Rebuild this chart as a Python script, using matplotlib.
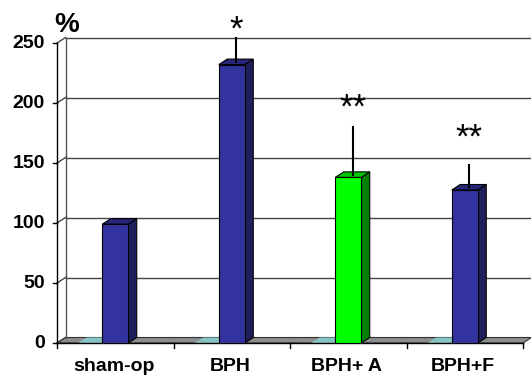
import numpy as np
import matplotlib
matplotlib.use('Agg')
import matplotlib.pyplot as plt
from matplotlib.patches import Polygon
import matplotlib.transforms as mtransforms

# data
groups = ['sham-op', 'BPH', 'BPH+ A', 'BPH+F']
values = [99, 232, 138, 127.5]
errors = [0, 20, 40, 18.5]
stars = ['', '*', '**', '**']
star_y = [0, 260.5, 195.5, 170.5]
y_ticks = [0, 50, 100, 150, 200, 250]

front_cols = ['#3333a0', '#3333a0', '#00ff00', '#3333a0']
side_cols = ['#1f1f5c', '#1f1f5c', '#008000', '#1f1f5c']
top_cols = ['#262678', '#262678', '#00c800', '#262678']

W, H = 531, 376
fig = plt.figure(figsize=(W / 100, H / 100), dpi=100)
ax = fig.add_axes([57 / W, (H - 343) / H, (W - 57) / W, 300 / H])
PX = 116.5   # pixels per category
PY = 1.2     # pixels per unit
ax.set_xlim(0, (W - 57) / PX)
ax.set_ylim(0, 250)
ax.axis('off')

DX = 8.5 / PX
DY = 5.5 / PY
n = len(groups)
xmax = ax.get_xlim()[1]
FONT = 'Liberation Sans'

# floor
ax.add_patch(Polygon([(0, 0), (n, 0), (n + DX, DY), (DX, DY)], closed=True,
                     facecolor='#8c8c8c', edgecolor='#333333', lw=0.8, clip_on=False))
bw = 26 / PX
centers = np.arange(n) + 0.5
for c in centers:
    l = c - bw / 2
    ax.add_patch(Polygon([(c - 0.32, 0), (l, 0), (l + DX, DY), (c - 0.32 + DX, DY)],
                         closed=True, facecolor='#88c4c4', edgecolor='none',
                         clip_on=False, zorder=1.5))

# walls, grid, axis
ax.plot([DX, DX], [DY, 250 + DY], color='#555555', lw=1, clip_on=False)
for v in y_ticks:
    if v > 0:
        ax.plot([DX, xmax], [v + DY, v + DY], color='#444444', lw=1, clip_on=False)
    ax.plot([0, DX], [v, v + DY], color='#444444', lw=1, clip_on=False)
    ax.plot([-4 / PX, 0], [v, v], color='black', lw=1, clip_on=False)
    ax.text(-12 / PX, v, str(v), ha='right', va='center', fontsize=14,
            fontweight='bold', family=FONT)
ax.plot([0, 0], [0, 250], color='black', lw=1, clip_on=False)
ax.plot([0, n], [0, 0], color='black', lw=1, clip_on=False)
for i in range(n + 1):
    ax.plot([i, i], [0, -5 / PY], color='black', lw=1, clip_on=False)

ax.text(-3 / PX, 259, '%', ha='left', va='baseline', fontsize=20,
        fontweight='bold', family=FONT)

# bars
for i, (c, v) in enumerate(zip(centers, values)):
    l, r = c - bw / 2, c + bw / 2
    ax.add_patch(Polygon([(r, 0), (r + DX, DY), (r + DX, v + DY), (r, v)], closed=True,
                         facecolor=side_cols[i], edgecolor='black', lw=0.8, zorder=3))
    ax.add_patch(Polygon([(l, v), (r, v), (r + DX, v + DY), (l + DX, v + DY)], closed=True,
                         facecolor=top_cols[i], edgecolor='black', lw=0.8, zorder=3))
    ax.add_patch(Polygon([(l, 0), (r, 0), (r, v), (l, v)], closed=True,
                         facecolor=front_cols[i], edgecolor='black', lw=0.8, zorder=3))
    if errors[i] > 0:
        ex = c + DX / 2
        ax.plot([ex, ex], [v + DY / 2, v + errors[i] + DY / 2], color='black',
                lw=1.5, zorder=4, clip_on=False)
    if stars[i]:
        ax.text(c + DX / 2, star_y[i], stars[i], ha='center', va='center',
                fontsize=25, family=FONT, clip_on=False)

lab_tr = mtransforms.blended_transform_factory(ax.transData, ax.transAxes)
for i, g in enumerate(groups):
    ax.text(i + 0.485, -28 / 300, g, transform=lab_tr, ha='center', va='baseline',
            fontsize=14, fontweight='bold', family=FONT)

fig.savefig('out.png', dpi=100)
